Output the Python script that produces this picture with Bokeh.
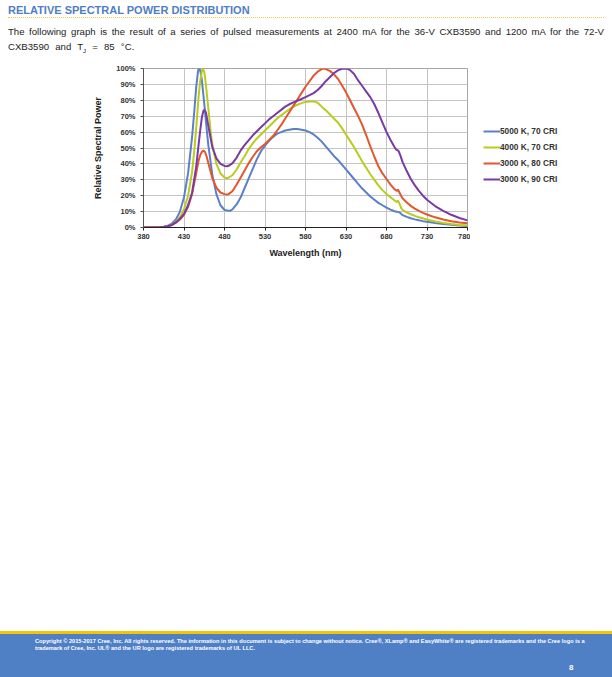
from bokeh.plotting import figure
from bokeh.layouts import column, row
from bokeh.models import (Range1d, FixedTicker, NumeralTickFormatter, Div)
from bokeh.embed import file_html
from bokeh.resources import INLINE

# ---------------- data (relative spectral power, %) ----------------
wl_5000 = [380, 390, 400, 405, 410, 415, 420, 425, 430, 435, 440, 443, 445, 447, 448, 450, 452, 455, 458, 460,
           465, 470, 475, 480, 485, 487, 490, 495, 500, 505, 510, 515, 520, 525, 530, 535, 540, 545, 550, 555,
           560, 565, 570, 575, 580, 585, 590, 595, 600, 605, 610, 615, 620, 625, 630, 635, 640, 645, 650, 655,
           660, 665, 670, 675, 680, 685, 690, 694, 696, 698, 700, 705, 710, 715, 720, 725, 730, 740, 750, 760,
           770, 780]
spd_5000 = [0, 0, 0.2, 0.5, 1.2, 2.5, 5, 10, 19, 34, 57, 75, 88, 97, 100, 99, 93, 78, 62, 52,
            33, 21, 14, 11, 10.5, 10.5, 11.5, 14.5, 19, 25, 31, 37, 43, 48, 51.5, 54.5, 57, 59, 60, 61,
            61.5, 62, 62, 61.5, 61, 60, 58.5, 56.5, 54, 51, 48, 45, 42.5, 39.5, 36.5, 33.5, 30.5, 27.5, 24.5, 22,
            19.5, 17.5, 15.5, 14, 12.5, 11.2, 10.2, 9.7, 9.6, 8.6, 7.8, 6.7, 5.8, 5.1, 4.5, 4, 3.6, 2.8, 2.2, 1.7,
            1.3, 1]

wl_4000 = [380, 390, 400, 405, 410, 415, 420, 425, 430, 435, 440, 443, 445, 448, 450, 452, 453, 455, 457, 460,
           463, 465, 470, 475, 480, 483, 485, 490, 495, 500, 505, 510, 515, 520, 525, 530, 535, 540, 545, 550,
           555, 560, 565, 570, 575, 580, 585, 590, 595, 600, 605, 610, 615, 620, 625, 630, 635, 640, 645, 650,
           655, 660, 665, 670, 675, 680, 685, 690, 693, 694, 696, 698, 700, 705, 710, 715, 720, 730, 740, 750,
           760, 770, 780]
spd_4000 = [0, 0, 0.1, 0.3, 0.8, 1.8, 3.5, 6.5, 11.5, 20, 35, 50, 62, 82, 92, 98, 100, 98, 90, 75,
            60, 52, 40, 34, 31.5, 31, 31.3, 33, 36.5, 41, 45, 49.5, 53, 56, 58.5, 61, 63.5, 66, 68.5, 70.5,
            72.5, 74.3, 76, 77.2, 78.2, 79, 79.3, 79.3, 78.5, 76, 73.8, 71.2, 68.5, 66, 62.5, 58.5, 54.5, 50.5, 46, 41.5,
            37.5, 33.5, 30, 26.5, 23.5, 21, 19, 17, 16, 17, 15, 12.5, 11, 9.5, 8.3, 7.3, 6.4, 5, 3.8, 2.9,
            2.2, 1.6, 1.2]

wl_3000_80 = [380, 390, 400, 405, 410, 415, 420, 425, 430, 435, 440, 445, 448, 450, 452, 454, 456, 458, 460, 465,
              470, 475, 480, 483, 485, 490, 495, 500, 505, 510, 515, 520, 525, 530, 535, 540, 545, 550, 555, 560,
              565, 570, 575, 580, 585, 590, 595, 600, 602, 605, 610, 615, 620, 625, 630, 635, 640, 645, 650, 655,
              660, 665, 670, 675, 680, 685, 690, 693, 694, 696, 698, 700, 705, 710, 715, 720, 725, 730, 740, 750,
              760, 770, 780]
spd_3000_80 = [0, 0, 0.1, 0.3, 0.7, 1.5, 3, 5, 8, 13, 21, 34, 42, 45.5, 47.5, 48.5, 47.5, 44.5, 40.5, 31,
               25, 22, 21, 20.7, 21, 23, 27, 31.5, 36, 40.5, 44.5, 48, 50.5, 52.5, 55, 57.5, 61, 64.5, 68.5, 72.5,
               76.5, 80.5, 84.5, 88.5, 92, 95.5, 98, 99.6, 100, 99.6, 98.5, 96.5, 93.5, 89.5, 85, 80, 75, 70, 64.5, 58,
               51, 44.5, 38.5, 34, 30.5, 27, 24, 23, 24, 22, 20, 18.3, 15.7, 13.6, 11.9, 10.4, 9.2, 8.2, 6.4, 5,
               3.9, 3.2, 2.6]

wl_3000_90 = [380, 390, 400, 405, 410, 415, 420, 425, 430, 435, 440, 445, 448, 450, 452, 454, 455, 457, 460, 465,
              470, 475, 480, 483, 485, 490, 495, 500, 505, 510, 515, 520, 525, 530, 535, 540, 545, 550, 555, 560,
              565, 570, 575, 580, 585, 590, 595, 600, 605, 610, 615, 620, 625, 628, 632, 635, 640, 645, 650, 655,
              660, 665, 670, 675, 680, 685, 690, 692, 694, 695, 697, 700, 705, 710, 715, 720, 725, 730, 740, 750,
              760, 770, 780]
spd_3000_90 = [0, 0, 0.1, 0.3, 0.8, 1.6, 3.2, 5.5, 8.5, 14, 22, 38, 52, 61, 69, 73.5, 74, 72.5, 64, 50.5,
               43.5, 40, 38.7, 38.5, 38.8, 40.5, 44, 48.5, 52, 55, 58, 60.5, 63, 65.5, 68, 70, 72, 74, 76, 77.5,
               78.7, 79.7, 80.8, 82, 83.2, 84.5, 86.5, 89, 92, 94.5, 97, 98.8, 99.8, 100, 99.8, 99, 96.5, 92.5, 89, 85.5,
               82, 77.5, 72, 66, 60, 55, 50.5, 49, 48.5, 48, 45.5, 41, 35.5, 30.5, 26.5, 23, 20, 17.5, 13.5, 10.5,
               8, 6, 4.5]

series_names = ["5000 K, 70 CRI", "4000 K, 70 CRI", "3000 K, 80 CRI", "3000 K, 90 CRI"]
series_colors = ["#5b80c9", "#b9cc1b", "#e2572b", "#7b3aa3"]
series_wl = [wl_5000, wl_4000, wl_3000_80, wl_3000_90]
series_spd = [spd_5000, spd_4000, spd_3000_80, spd_3000_90]

x_ticks = [380, 430, 480, 530, 580, 630, 680, 730, 780]
y_ticks = [0, 0.1, 0.2, 0.3, 0.4, 0.5, 0.6, 0.7, 0.8, 0.9, 1.0]

for a, b in zip(series_wl, series_spd):
    assert len(a) == len(b), (len(a), len(b))

FONT = "Liberation Sans"
W = 612
H_HEAD, H_CHART = 60, 202
H_FOOT = 677 - H_HEAD - H_CHART
W_CHART = 470
W_LEG = W - W_CHART
B_TOP, B_BOTTOM = 8, 35

# ---------------- header (HTML text) ----------------
head_html = f"""
<div style="position:relative;width:{W}px;height:{H_HEAD}px;font-family:'{FONT}';color:#222;">
  <div style="position:absolute;left:8px;top:3px;font-size:11px;font-weight:bold;color:#4f7ec6;white-space:nowrap;">RELATIVE SPECTRAL POWER DISTRIBUTION</div>
  <div style="position:absolute;left:8px;top:17px;width:596px;height:0;border-top:1px dotted #efc74a;"></div>
  <div style="position:absolute;left:8px;top:25px;width:596px;font-size:9.6px;white-space:nowrap;text-align:justify;text-align-last:justify;">The following graph is the result of a series of pulsed measurements at 2400 mA for the 36-V CXB3590 and 1200 mA for the 72-V</div>
  <div style="position:absolute;left:8px;top:40px;font-size:9.6px;word-spacing:3.5px;white-space:nowrap;">CXB3590 and T<sub style="font-size:6px;">J</sub> = 85 &#176;C.</div>
</div>
"""
head = Div(text=head_html, width=W, height=H_HEAD, margin=0)

# ---------------- chart ----------------
p = figure(width=W_CHART, height=H_CHART, output_backend="svg", toolbar_location=None,
           x_range=Range1d(380, 780), y_range=Range1d(0, 1.0),
           min_border_left=143, min_border_right=3, min_border_top=B_TOP, min_border_bottom=B_BOTTOM)
p.margin = 0
p.background_fill_color = "white"
p.border_fill_color = "white"
p.outline_line_color = "#a6a6a6"
p.outline_line_width = 1

for wl, spd, c in zip(series_wl, series_spd, series_colors):
    p.line(wl, [s / 100.0 for s in spd], line_color=c, line_width=2)

for ax in (p.xaxis[0], p.yaxis[0]):
    ax.major_label_text_font = FONT
    ax.major_label_text_font_size = "7.5px"
    ax.major_label_text_font_style = "bold"
    ax.major_label_text_color = "#333333"
    ax.axis_label_text_font = FONT
    ax.axis_label_text_font_style = "bold"
    ax.axis_label_text_font_size = "9px"
    ax.axis_label_text_color = "#222222"
    ax.minor_tick_line_color = None
    ax.major_tick_in = 0
    ax.major_tick_out = 3

p.xaxis.major_label_standoff = 3
p.yaxis.major_label_standoff = 5
p.xaxis.ticker = FixedTicker(ticks=x_ticks)
p.yaxis.ticker = FixedTicker(ticks=y_ticks)
p.yaxis.formatter = NumeralTickFormatter(format="0%")
p.xaxis.axis_label = "Wavelength (nm)"
p.yaxis.axis_label = "Relative Spectral Power"
p.xaxis.axis_label_standoff = 6
p.yaxis.axis_label_standoff = 10
p.xaxis.axis_line_color = "#222222"
p.yaxis.axis_line_color = "#555555"
p.xaxis.major_tick_line_color = "#222222"
p.yaxis.major_tick_line_color = "#555555"

p.xgrid.ticker = FixedTicker(ticks=x_ticks)
p.ygrid.ticker = FixedTicker(ticks=y_ticks)
p.xgrid.grid_line_color = "#c4c4c4"
p.ygrid.grid_line_color = "#c4c4c4"

# ---------------- legend panel (separate figure to the right) ----------------
# same series drawn here through this figure's own (0..1) range, so they fall
# outside its frame; only the legend is visible
lf = figure(width=W_LEG, height=H_CHART, output_backend="svg", toolbar_location=None,
            x_range=Range1d(0, 1), y_range=Range1d(0, 1),
            min_border_left=0, min_border_right=0, min_border_top=B_TOP, min_border_bottom=B_BOTTOM)
lf.margin = 0
lf.axis.visible = False
lf.grid.visible = False
lf.outline_line_color = None
lf.background_fill_color = "white"
lf.border_fill_color = "white"
for wl, spd, n, c in zip(series_wl, series_spd, series_names, series_colors):
    lf.line(wl, [s / 100.0 for s in spd], line_color=c, line_width=2, legend_label=n)
lg = lf.legend[0]
lg.location = (13, 42)
lg.padding = 0
lg.margin = 0
lg.spacing = 4
lg.glyph_width = 17
lg.glyph_height = 12
lg.label_height = 12
lg.label_standoff = 0
lg.label_text_font = FONT
lg.label_text_font_size = "8.3px"
lg.label_text_font_style = "bold"
lg.label_text_color = "#333333"
lg.border_line_alpha = 0
lg.background_fill_alpha = 0

# ---------------- footer (HTML) ----------------
band_top = 631 - (H_HEAD + H_CHART)
foot_html = f"""
<div style="position:relative;width:{W}px;height:{H_FOOT}px;font-family:'{FONT}';">
  <div style="position:absolute;left:0;top:{band_top}px;width:{W}px;height:3px;background:#f6c400;"></div>
  <div style="position:absolute;left:0;top:{band_top + 3}px;width:{W}px;height:{H_FOOT - band_top - 3}px;background:#4f80c6;"></div>
  <div style="position:absolute;left:35px;top:{band_top + 7}px;font-size:5.65px;line-height:7px;font-weight:bold;color:white;white-space:nowrap;">Copyright &#169; 2015-2017 Cree, Inc. All rights reserved. The information in this document is subject to change without notice. Cree&#174;, XLamp&#174; and EasyWhite&#174; are registered trademarks and the Cree logo is a<br>trademark of Cree, Inc. UL&#174; and the UR logo are registered trademarks of UL LLC.</div>
  <div style="position:absolute;left:569px;top:{band_top + 31}px;font-size:8px;font-weight:bold;color:white;">8</div>
</div>
"""
foot = Div(text=foot_html, width=W, height=H_FOOT, margin=0)

layout = column(head, row(p, lf, spacing=0), foot, spacing=0)
open("out.html", "w").write(file_html(layout, INLINE))
